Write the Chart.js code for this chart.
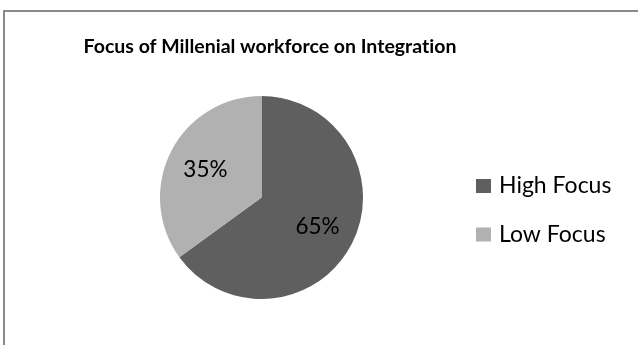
<!DOCTYPE html>
<html>
<head>
<meta charset="utf-8">
<script src="https://cdn.jsdelivr.net/npm/chart.js@4"></script>
<style>
  html, body { margin: 0; padding: 0; background: #fff; overflow: hidden; }
  #wrap { position: relative; width: 638px; height: 345px; }
  #frame { position: absolute; left: 3px; top: 10px; width: 700px; height: 400px; border: 2px solid #8a8a8a; box-sizing: border-box; }
  #chart { position: absolute; left: 0; top: 0; }
</style>
</head>
<body>
<div id="wrap">
  <div id="frame"></div>
  <canvas id="chart" width="638" height="345"></canvas>
</div>
<script>
const titleText = "Focus of Millenial workforce on Integration";
const categories = ["High Focus", "Low Focus"];
const shares = [65, 35];
const colors = ["#5f5f5f", "#b1b1b1"];

const FONT = "Lato, 'Open Sans', sans-serif";

// keep "ti" from turning into a ligature
const noLig = s => s.replace(/ti/g, "t\u200Ci");

// title, legend and percentage labels
const decorations = {
  id: "decorations",
  afterDatasetsDraw(chart) {
    const ctx = chart.ctx;
    const meta = chart.getDatasetMeta(0);
    ctx.save();
    ctx.fillStyle = "#000";
    ctx.textAlign = "center";
    ctx.textBaseline = "alphabetic";
    ctx.font = "22.5px " + FONT;
    meta.data.forEach((arc, i) => {
      const p = arc.getProps(["x", "y", "startAngle", "endAngle", "outerRadius"], true);
      const mid = (p.startAngle + p.endAngle) / 2;
      const r = p.outerRadius * 0.62;
      const x = p.x + Math.cos(mid) * r;
      const y = p.y + Math.sin(mid) * r;
      ctx.fillText(shares[i] + "%", x, y + 8);
    });
    ctx.restore();
  },
  afterDraw(chart) {
    const ctx = chart.ctx;
    ctx.save();
    ctx.fillStyle = "#000";
    ctx.textAlign = "center";
    ctx.textBaseline = "alphabetic";
    ctx.font = "bold 19.5px " + FONT;
    ctx.fillText(noLig(titleText), 270, 53);

    ctx.textAlign = "left";
    ctx.font = "23px " + FONT;
    const ds = chart.data.datasets[0];
    chart.data.labels.forEach((lab, i) => {
      const base = 193 + i * 48.5;
      ctx.fillStyle = ds.backgroundColor[i];
      ctx.fillRect(476, base - 14, 15, 14);
      ctx.fillStyle = "#000";
      ctx.fillText(lab, 499, base);
    });
    ctx.restore();
  }
};

new Chart(document.getElementById("chart"), {
  type: "pie",
  data: {
    labels: categories,
    datasets: [{
      data: shares,
      backgroundColor: colors,
      borderWidth: 0
    }]
  },
  options: {
    responsive: false,
    devicePixelRatio: 1,
    animation: false,
    layout: { padding: { left: 160, right: 275, top: 96, bottom: 46 } },
    plugins: {
      legend: { display: false },
      title: { display: false },
      tooltip: { enabled: false }
    }
  },
  plugins: [decorations]
});
</script>
</body>
</html>
